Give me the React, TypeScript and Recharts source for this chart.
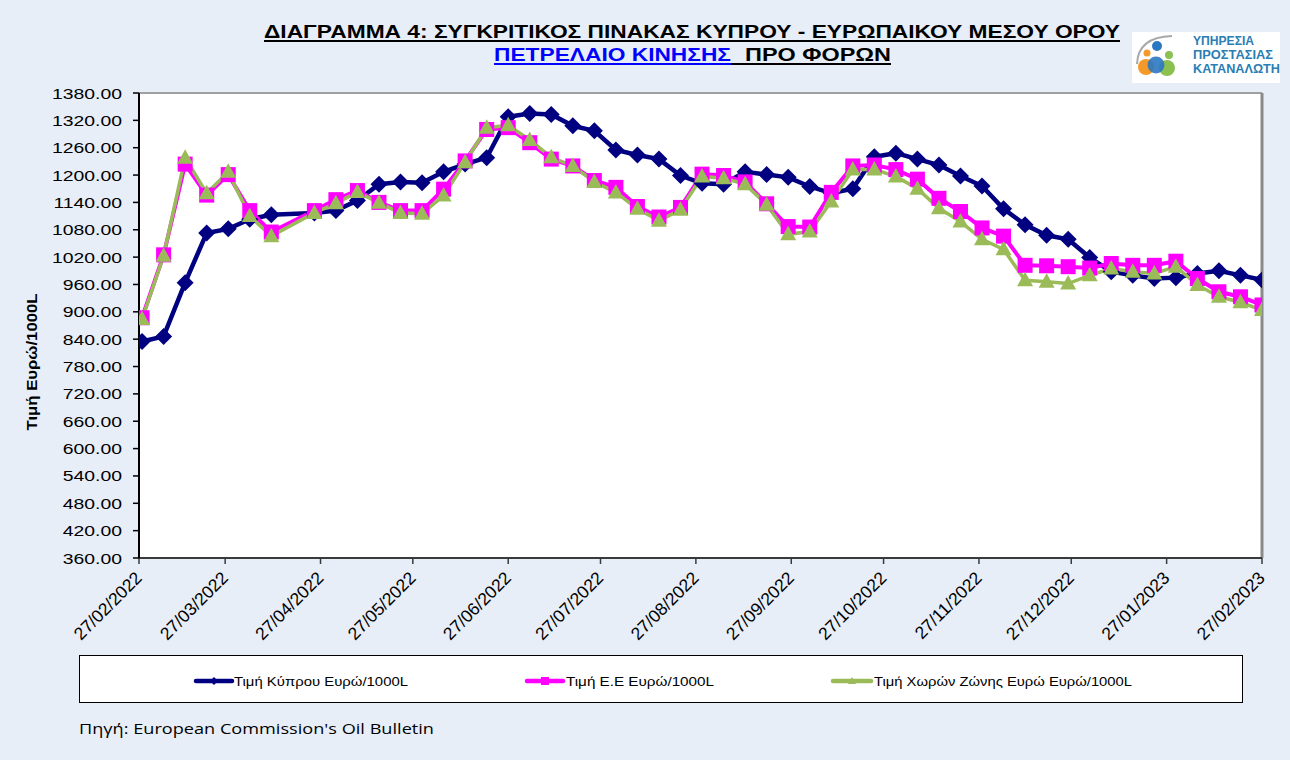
import React from 'react';
import { LineChart, Line, XAxis, YAxis, CartesianGrid, ReferenceLine, Legend } from 'recharts';

// ---------- data ----------
const dates = [
  '28/02/2022', '07/03/2022', '14/03/2022', '21/03/2022', '28/03/2022', '04/04/2022', '11/04/2022',
  '25/04/2022', '02/05/2022', '09/05/2022', '16/05/2022', '23/05/2022', '30/05/2022', '06/06/2022',
  '13/06/2022', '20/06/2022', '27/06/2022', '04/07/2022', '11/07/2022', '18/07/2022', '25/07/2022',
  '01/08/2022', '08/08/2022', '15/08/2022', '22/08/2022', '29/08/2022', '05/09/2022', '12/09/2022',
  '19/09/2022', '26/09/2022', '03/10/2022', '10/10/2022', '17/10/2022', '24/10/2022', '31/10/2022',
  '07/11/2022', '14/11/2022', '21/11/2022', '28/11/2022', '05/12/2022', '12/12/2022', '19/12/2022',
  '26/12/2022', '02/01/2023', '09/01/2023', '16/01/2023', '23/01/2023', '30/01/2023', '06/02/2023',
  '13/02/2023', '20/02/2023', '27/02/2023',
];

const cyprusPrice = [
  835, 846, 964, 1073, 1082, 1103, 1113,
  1117, 1122, 1144, 1180, 1185, 1183, 1207,
  1224, 1238, 1328, 1335, 1333, 1308, 1297,
  1255, 1244, 1235, 1199, 1182, 1180, 1207,
  1201, 1195, 1175, 1160, 1170, 1240, 1248,
  1235, 1222, 1198, 1176, 1126, 1091, 1068,
  1059, 1019, 988, 980, 973, 975, 984,
  990, 980, 970,
];

const euPrice = [
  887, 1025, 1224, 1156, 1201, 1122, 1075,
  1122, 1146, 1166, 1140, 1122, 1122, 1169,
  1231, 1300, 1304, 1271, 1235, 1220, 1188,
  1173, 1131, 1108, 1129, 1202, 1199, 1185,
  1137, 1087, 1086, 1162, 1220, 1222, 1212,
  1191, 1149, 1120, 1084, 1066, 1002, 1001,
  999, 996, 1006, 1002, 1002, 1011, 973,
  944, 933, 915,
];

const euroZonePrice = [
  884, 1023, 1238, 1160, 1207, 1110, 1066,
  1117, 1138, 1163, 1139, 1117, 1115, 1155,
  1228, 1304, 1309, 1277, 1239, 1220, 1185,
  1162, 1126, 1100, 1124, 1197, 1193, 1180,
  1135, 1070, 1076, 1142, 1212, 1212, 1197,
  1170, 1127, 1098, 1059, 1037, 969, 966,
  962, 980, 995, 988, 984, 999, 959,
  933, 921, 904,
];

const xTickLabels = [
  '27/02/2022', '27/03/2022', '27/04/2022', '27/05/2022', '27/06/2022', '27/07/2022', '27/08/2022',
  '27/09/2022', '27/10/2022', '27/11/2022', '27/12/2022', '27/01/2023', '27/02/2023',
];

const yTicks = [360, 420, 480, 540, 600, 660, 720, 780, 840, 900, 960, 1020, 1080, 1140, 1200, 1260, 1320, 1380];

const seriesNames = ['Τιμή Κύπρου Ευρώ/1000L', 'Τιμή Ε.Ε Ευρώ/1000L', 'Τιμή Χωρών Ζώνης Ευρώ Ευρώ/1000L'];
const seriesColors = ['#000080', '#FF00FF', '#9BBB59'];

// ---------- helpers ----------
const parseDate = (s: string) => {
  const [d, m, y] = s.split('/').map(Number);
  return Date.UTC(y, m - 1, d);
};
const fmtDate = (t: number) => {
  const dt = new Date(t);
  const dd = String(dt.getUTCDate()).padStart(2, '0');
  const mm = String(dt.getUTCMonth() + 1).padStart(2, '0');
  return `${dd}/${mm}/${dt.getUTCFullYear()}`;
};

const rows = dates.map((d, i) => ({
  t: parseDate(d),
  cy: cyprusPrice[i],
  eu: euPrice[i],
  ez: euroZonePrice[i],
}));

const xTicks = xTickLabels.map(parseDate);
const xStart = xTicks[0];
const xEnd = xTicks[xTicks.length - 1];

const FONT = '"Liberation Sans", Arial, sans-serif';

// ---------- marks ----------
const Diamond = (p: any) => {
  const { cx, cy, index } = p;
  if (cx == null || cy == null) return <g key={`d-${index}`} />;
  return (
    <path key={`d-${index}`} d={`M${cx},${cy - 8.5} L${cx + 8.5},${cy} L${cx},${cy + 8.5} L${cx - 8.5},${cy} Z`} fill="#000080" />
  );
};
const Square = (p: any) => {
  const { cx, cy, index } = p;
  if (cx == null || cy == null) return <g key={`s-${index}`} />;
  return <rect key={`s-${index}`} x={cx - 7.5} y={cy - 7.5} width={15} height={15} fill="#FF00FF" />;
};
const Triangle = (p: any) => {
  const { cx, cy, index } = p;
  if (cx == null || cy == null) return <g key={`t-${index}`} />;
  return <path key={`t-${index}`} d={`M${cx},${cy - 8.5} L${cx + 8},${cy + 6} L${cx - 8},${cy + 6} Z`} fill="#9BBB59" />;
};

const XTick = (p: any) => {
  const { x, y, payload } = p;
  const px = x + 4;
  const py = y + 13;
  return (
    <text x={px} y={py} transform={`rotate(-45 ${px} ${py})`} textAnchor="end" fontFamily={FONT} fontSize={17.5} fill="#000">
      {fmtDate(payload.value)}
    </text>
  );
};

const YTick = (p: any) => {
  const { x, y, payload } = p;
  return (
    <g transform={`translate(${x},${y + 5.5}) scale(1.25,1)`}>
      <text x={0} y={0} textAnchor="end" fontFamily={FONT} fontSize={15.5} fill="#000">
        {Number(payload.value).toFixed(2)}
      </text>
    </g>
  );
};

const LegendBox = () => {
  const entries = [
    { lx: 117, lw: 36, tx: 155, tl: 174 },
    { lx: 448, lw: 36, tx: 487, tl: 148 },
    { lx: 754, lw: 38, tx: 795, tl: 258 },
  ];
  return (
    <svg width={1164} height={48} style={{ display: 'block' }}>
      <rect x={0.5} y={0.5} width={1163} height={47} fill="#FFFFFF" stroke="#000" strokeWidth={1} />
      {entries.map((e, i) => {
        const cx = e.lx + e.lw / 2;
        const cy = 26;
        let marker: React.ReactNode = null;
        if (i === 0) marker = <path d={`M${cx},${cy - 4} L${cx + 4},${cy} L${cx},${cy + 4} L${cx - 4},${cy} Z`} fill={seriesColors[0]} />;
        if (i === 1) marker = <rect x={cx - 4} y={cy - 4} width={8} height={8} fill={seriesColors[1]} />;
        if (i === 2) marker = <path d={`M${cx},${cy - 4} L${cx + 4},${cy + 3} L${cx - 4},${cy + 3} Z`} fill={seriesColors[2]} />;
        return (
          <g key={i}>
            <line x1={e.lx} x2={e.lx + e.lw} y1={cy} y2={cy} stroke={seriesColors[i]} strokeWidth={4.5} strokeLinecap="round" />
            {marker}
            <text x={e.tx} y={cy + 4.5} fontFamily={FONT} fontSize={12.5} fill="#000" textLength={e.tl} lengthAdjust="spacingAndGlyphs">
              {seriesNames[i]}
            </text>
          </g>
        );
      })}
    </svg>
  );
};

export default function App() {
  return (
    <div style={{ position: 'absolute', left: 0, top: 0, width: 1290, height: 760, background: '#E8EEF7', overflow: 'hidden' }}>
      <LineChart
        width={1290}
        height={760}
        data={rows}
        margin={{ top: 93, right: 28, bottom: 172, left: 0 }}
        style={{ position: 'absolute', left: 0, top: 0 }}
      >
        <rect x={139} y={93} width={1123} height={465} fill="#FFFFFF" />
        <CartesianGrid stroke="#CBCBCB" strokeWidth={1.5} fill="#FFFFFF" />
        <XAxis
          dataKey="t"
          type="number"
          domain={[xStart, xEnd]}
          ticks={xTicks}
          interval={0}
          height={30}
          tick={<XTick />}
          tickSize={6}
          tickMargin={2}
          axisLine={{ stroke: '#3A3A3A', strokeWidth: 2 }}
          tickLine={{ stroke: '#3A3A3A', strokeWidth: 1.5 }}
          allowDataOverflow
        />
        <YAxis
          type="number"
          domain={[360, 1380]}
          ticks={yTicks}
          interval={0}
          width={139}
          tick={<YTick />}
          tickSize={6}
          tickMargin={11}
          axisLine={{ stroke: '#000', strokeWidth: 2 }}
          tickLine={{ stroke: '#000', strokeWidth: 1.5 }}
          allowDataOverflow
        />
        <ReferenceLine y={1380} stroke="#A0A0A0" strokeWidth={2} />
        <ReferenceLine x={xEnd} stroke="#8A8A8A" strokeWidth={3} />
        <Legend
          layout="horizontal"
          verticalAlign="middle"
          align="center"
          content={() => <LegendBox />}
          wrapperStyle={{ position: 'absolute', left: 79, top: 655, width: 1164, height: 48 }}
        />
        <Line
          dataKey="cy"
          name={seriesNames[0]}
          stroke={seriesColors[0]}
          strokeWidth={4.5}
          dot={(p: any) => <Diamond {...p} key={`d-${p.index}`} />}
          activeDot={false}
          isAnimationActive={false}
          type="linear"
        />
        <Line
          dataKey="eu"
          name={seriesNames[1]}
          stroke={seriesColors[1]}
          strokeWidth={4}
          dot={(p: any) => <Square {...p} key={`s-${p.index}`} />}
          activeDot={false}
          isAnimationActive={false}
          type="linear"
        />
        <Line
          dataKey="ez"
          name={seriesNames[2]}
          stroke={seriesColors[2]}
          strokeWidth={3.5}
          dot={(p: any) => <Triangle {...p} key={`t-${p.index}`} />}
          activeDot={false}
          isAnimationActive={false}
          type="linear"
        />
      </LineChart>

      <svg width={1290} height={760} style={{ position: 'absolute', left: 0, top: 0, pointerEvents: 'none' }}>
        {/* title */}
        <text x={264} y={37.5} fontFamily={FONT} fontWeight="bold" fontSize={18} fill="#000" textLength={856} lengthAdjust="spacingAndGlyphs">
          ΔΙΑΓΡΑΜΜΑ 4: ΣΥΓΚΡΙΤΙΚΟΣ ΠΙΝΑΚΑΣ ΚΥΠΡΟΥ - ΕΥΡΩΠΑΙΚΟΥ ΜΕΣΟΥ ΟΡΟΥ
        </text>
        <line x1={264} x2={1120} y1={41} y2={41} stroke="#000" strokeWidth={1.8} />
        <text x={494} y={60.5} fontFamily={FONT} fontWeight="bold" fontSize={18} fill="#0000FF" textLength={237} lengthAdjust="spacingAndGlyphs">
          ΠΕΤΡΕΛΑΙΟ ΚΙΝΗΣΗΣ
        </text>
        <line x1={494} x2={731} y1={64} y2={64} stroke="#0000FF" strokeWidth={1.8} />
        <text x={745} y={60.5} fontFamily={FONT} fontWeight="bold" fontSize={18} fill="#000" textLength={146} lengthAdjust="spacingAndGlyphs">
          ΠΡΟ  ΦΟΡΩΝ
        </text>
        <line x1={731} x2={891} y1={64} y2={64} stroke="#000" strokeWidth={1.8} />

        {/* logo */}
        <rect x={1132} y={32} width={148} height={51} fill="#FFFFFF" />
        <path d="M1137,64 Q1138,37 1172,36" stroke="#A8A8A8" strokeWidth={2} fill="none" />
        <circle cx={1147} cy={53} r={3.5} fill="#F39A2B" />
        <circle cx={1157} cy={46} r={5} fill="#2B78C2" />
        <circle cx={1169} cy={55} r={4} fill="#8CC152" />
        <circle cx={1146} cy={67} r={8} fill="#F39A2B" />
        <circle cx={1167} cy={68} r={8} fill="#8CC152" />
        <circle cx={1156} cy={65} r={8.5} fill="#2B78C2" opacity={0.9} />
        <text x={1193} y={45} fontFamily={FONT} fontWeight="bold" fontSize={13} fill="#2A7DB5" textLength={61} lengthAdjust="spacingAndGlyphs">ΥΠΗΡΕΣΙΑ</text>
        <text x={1193} y={59} fontFamily={FONT} fontWeight="bold" fontSize={13} fill="#2A7DB5" textLength={80} lengthAdjust="spacingAndGlyphs">ΠΡΟΣΤΑΣΙΑΣ</text>
        <text x={1193} y={73} fontFamily={FONT} fontWeight="bold" fontSize={13} fill="#2A7DB5" textLength={87} lengthAdjust="spacingAndGlyphs">ΚΑΤΑΝΑΛΩΤΗ</text>

        {/* y axis label */}
        <text
          x={37}
          y={362}
          transform="rotate(-90 37 362)"
          textAnchor="middle"
          fontFamily={FONT}
          fontWeight="bold"
          fontSize={15}
          fill="#000"
          textLength={137}
          lengthAdjust="spacingAndGlyphs"
        >
          Τιμή Ευρώ/1000L
        </text>

        {/* source */}
        <text x={79} y={734} fontFamily='"Open Sans", "Noto Sans", sans-serif' fontSize={15} fill="#000" textLength={355} lengthAdjust="spacingAndGlyphs">
          Πηγή: European Commission's Oil Bulletin
        </text>
      </svg>
    </div>
  );
}
